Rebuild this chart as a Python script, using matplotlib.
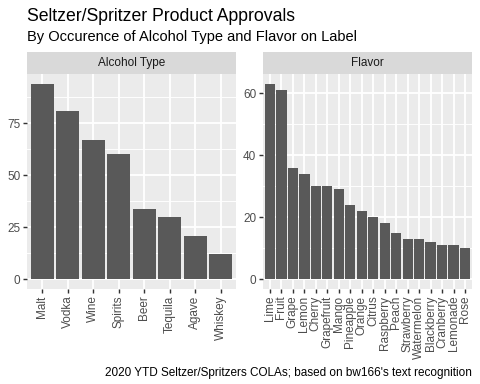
import matplotlib
matplotlib.use("Agg")
import matplotlib.pyplot as plt
import numpy as np

plt.rcParams['font.family'] = ['Liberation Sans', 'DejaVu Sans']

alcohol_types = ["Malt", "Vodka", "Wine", "Spirits", "Beer", "Tequila", "Agave", "Whiskey"]
alcohol_counts = [94, 81, 67, 60, 34, 30, 21, 12]

flavors = ["Lime", "Fruit", "Grape", "Lemon", "Cherry", "Grapefruit", "Mango", "Pineapple",
           "Orange", "Citrus", "Raspberry", "Peach", "Strawberry", "Watermelon", "Blackberry",
           "Cranberry", "Lemonade", "Rose"]
flavor_counts = [63, 61, 36, 34, 30, 30, 29, 24, 22, 20, 18, 15, 13, 13, 12, 11, 11, 10]

alcohol_ticks = [0, 25, 50, 75]
alcohol_minor = [12.5, 37.5, 62.5, 87.5]
flavor_ticks = [0, 20, 40, 60]
flavor_minor = [10, 30, 50]

title = "Seltzer/Spritzer Product Approvals"
subtitle = "By Occurence of Alcohol Type and Flavor on Label"
caption = "2020 YTD Seltzer/Spritzers COLAs; based on bw166's text recognition"
strip_labels = ["Alcohol Type", "Flavor"]

W, H = 480, 384
DPI = 72
S = 96 / 72
fig = plt.figure(figsize=(W / DPI, H / DPI), dpi=DPI)
fig.patch.set_facecolor("white")

def px_axes(x0, y0, x1, y1):
    return fig.add_axes([x0 / W, 1 - y1 / H, (x1 - x0) / W, (y1 - y0) / H])

panel_top, panel_bot = 74, 289
strip_top = 52
panels = [(27, 236), (263, 472)]
datasets = [
    (alcohol_types, alcohol_counts, alcohol_ticks, alcohol_minor),
    (flavors, flavor_counts, flavor_ticks, flavor_minor),
]

gridlw = 0.5 * 72.27 / 25.4 * S
for (x0, x1), (cats, vals, ticks, minor), lab in zip(panels, datasets, strip_labels):
    ax = px_axes(x0, panel_top, x1, panel_bot)
    ax.set_facecolor("#EBEBEB")
    n = len(cats)
    xs = np.arange(1, n + 1)
    ymax = max(vals)
    ax.set_xlim(0.4, n + 0.6)
    ax.set_ylim(-0.05 * ymax, ymax * 1.05)
    for m in minor:
        ax.axhline(m, color="white", lw=gridlw / 2, zorder=0.5)
    for t in ticks:
        ax.axhline(t, color="white", lw=gridlw, zorder=0.6)
    for x in xs:
        ax.axvline(x, color="white", lw=gridlw, zorder=0.6)
    ax.bar(xs, vals, width=0.9, color="#595959", zorder=2)
    ax.set_xticks(xs)
    ax.set_xticklabels(cats, rotation=90, ha="center", va="top")
    ax.set_yticks(ticks)
    ax.set_yticklabels([str(t) for t in ticks])
    ax.tick_params(axis="both", length=2.75 * S, width=gridlw * 0.75, color="#333333",
                   labelcolor="#4D4D4D", labelsize=8.8 * S, pad=2.2 * S)
    for s in ax.spines.values():
        s.set_visible(False)
    sax = px_axes(x0, strip_top, x1, panel_top)
    sax.set_facecolor("#D9D9D9")
    sax.set_xticks([])
    sax.set_yticks([])
    for s in sax.spines.values():
        s.set_visible(False)
    sax.text(0.5, 0.5, lab, ha="center", va="center", fontsize=8.8 * S, color="#1A1A1A",
             transform=sax.transAxes)

fig.text(27 / W, 1 - 21 / H, title, fontsize=13.2 * S, color="black", ha="left", va="baseline")
fig.text(27 / W, 1 - 41 / H, subtitle, fontsize=11 * S, color="black", ha="left", va="baseline")
fig.text(472 / W, 1 - 376 / H, caption, fontsize=8.8 * S, color="black", ha="right", va="baseline")

fig.savefig("out.png", dpi=DPI)
